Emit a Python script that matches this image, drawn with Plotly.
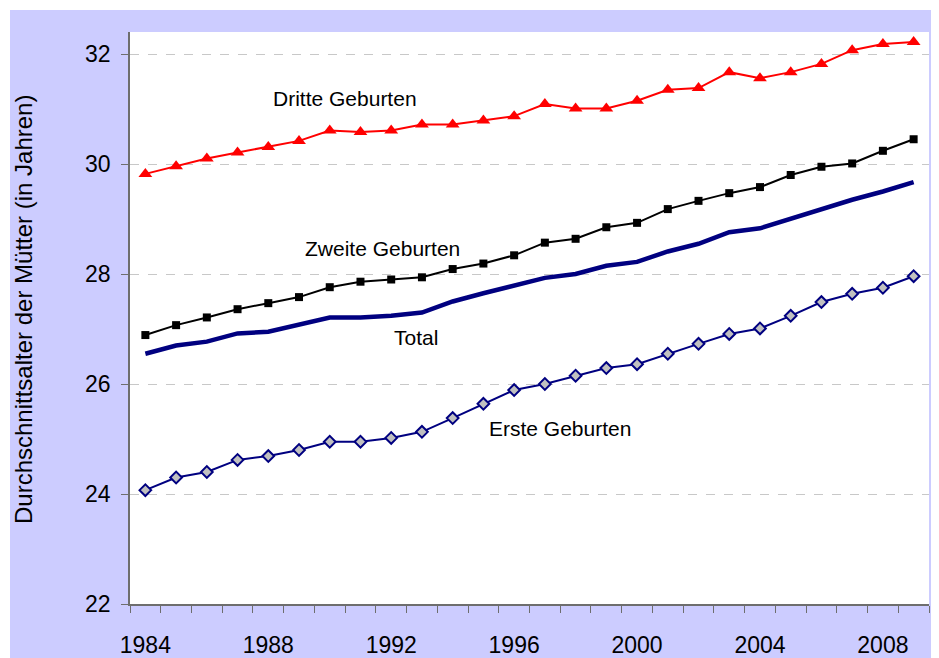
import plotly.graph_objects as go

# %%
years = list(range(1984, 2010))

dritte = [29.82, 29.96, 30.10, 30.21, 30.31, 30.42, 30.61, 30.58, 30.61, 30.72,
          30.72, 30.79, 30.87, 31.09, 31.01, 31.01, 31.15, 31.35, 31.38, 31.67,
          31.56, 31.67, 31.82, 32.07, 32.18, 32.22]
zweite = [26.89, 27.07, 27.21, 27.36, 27.47, 27.58, 27.76, 27.86, 27.90, 27.94,
          28.09, 28.19, 28.34, 28.57, 28.64, 28.85, 28.93, 29.18, 29.33, 29.47,
          29.58, 29.80, 29.95, 30.01, 30.24, 30.45]
total = [26.55, 26.70, 26.77, 26.92, 26.95, 27.07, 27.21, 27.21, 27.24, 27.30,
         27.50, 27.65, 27.80, 27.93, 28.00, 28.15, 28.22, 28.41, 28.55, 28.76,
         28.83, 29.01, 29.19, 29.35, 29.50, 29.67]
erste = [24.07, 24.30, 24.40, 24.62, 24.69, 24.80, 24.95, 24.95, 25.02, 25.13,
         25.38, 25.64, 25.89, 26.00, 26.15, 26.29, 26.36, 26.55, 26.73, 26.91,
         27.01, 27.24, 27.49, 27.64, 27.75, 27.96]

tick_years = [1984, 1988, 1992, 1996, 2000, 2004, 2008]
y_ticks = [22, 24, 26, 28, 30, 32]

FONT = "Liberation Sans, Arial, sans-serif"
LAVENDER = "#CCCCFF"
AXIS = "#6E6E6E"

# %%
fig = go.Figure()

fig.add_trace(go.Scatter(x=years, y=dritte, mode='lines+markers',
                         line=dict(color='#FF0000', width=2),
                         marker=dict(symbol='triangle-up', size=12, color='#FF0000'),
                         name='Dritte Geburten'))
fig.add_trace(go.Scatter(x=years, y=zweite, mode='lines+markers',
                         line=dict(color='black', width=2),
                         marker=dict(symbol='square', size=8, color='black'),
                         name='Zweite Geburten'))
fig.add_trace(go.Scatter(x=years, y=total, mode='lines',
                         line=dict(color='#000080', width=4.5),
                         name='Total'))
fig.add_trace(go.Scatter(x=years, y=erste, mode='lines+markers',
                         line=dict(color='#000080', width=2),
                         marker=dict(symbol='diamond', size=9, color='#C0C0C0',
                                     line=dict(color='#000080', width=2)),
                         name='Erste Geburten'))

labels = [
    dict(x=1990.51, y=31.2, text='Dritte Geburten'),
    dict(x=1991.73, y=28.47, text='Zweite Geburten'),
    dict(x=1992.81, y=26.85, text='Total'),
    dict(x=1997.49, y=25.2, text='Erste Geburten'),
]
ann = [dict(x=l['x'], y=l['y'], text=l['text'], showarrow=False,
            font=dict(family=FONT, size=21, color='black')) for l in labels]
ann.append(dict(x=-0.1339, y=0.5157, xref='paper', yref='paper', showarrow=False,
                xanchor='center', yanchor='middle',
                text='Durchschnittsalter der Mütter (in Jahren)', textangle=-90,
                font=dict(family=FONT, size=24, color='black')))

# the page body adds 8px, so the figure is drawn 8px smaller
fig.update_layout(
    width=931, height=650,
    margin=dict(l=122, r=10, t=24, b=54),
    paper_bgcolor=LAVENDER,
    plot_bgcolor='white',
    showlegend=False,
    font=dict(family=FONT, color='black'),
    annotations=ann,
    shapes=[
        dict(type='rect', xref='paper', yref='paper', x0=-0.2, x1=1.05,
             y0=1.0385, y1=1.2, fillcolor='white', line=dict(width=0), layer='below'),
        dict(type='rect', xref='paper', yref='paper', x0=-0.2, x1=-0.1502,
             y0=-0.2, y1=1.2, fillcolor='white', line=dict(width=0), layer='below'),
    ],
    xaxis=dict(range=[1983.5, 2009.5], tickvals=tick_years, ticks='',
               showgrid=False, zeroline=False, automargin=False,
               showline=True, linecolor=AXIS, linewidth=1.5,
               tickfont=dict(size=23), ticklabelstandoff=20,
               minor=dict(tickvals=[y - 0.5 for y in years] + [2009.5],
                          ticks='outside', ticklen=7, tickcolor=AXIS, showgrid=False)),
    yaxis=dict(range=[22, 32.4], tickvals=y_ticks, ticks='outside', ticklen=7,
               tickcolor=AXIS, showline=True, linecolor=AXIS, linewidth=1.5,
               showgrid=True, gridcolor='#C8C8C8', griddash='dash', gridwidth=1,
               zeroline=False, automargin=False,
               tickfont=dict(size=23), ticklabelstandoff=6),
)

fig.write_html("out.html")
